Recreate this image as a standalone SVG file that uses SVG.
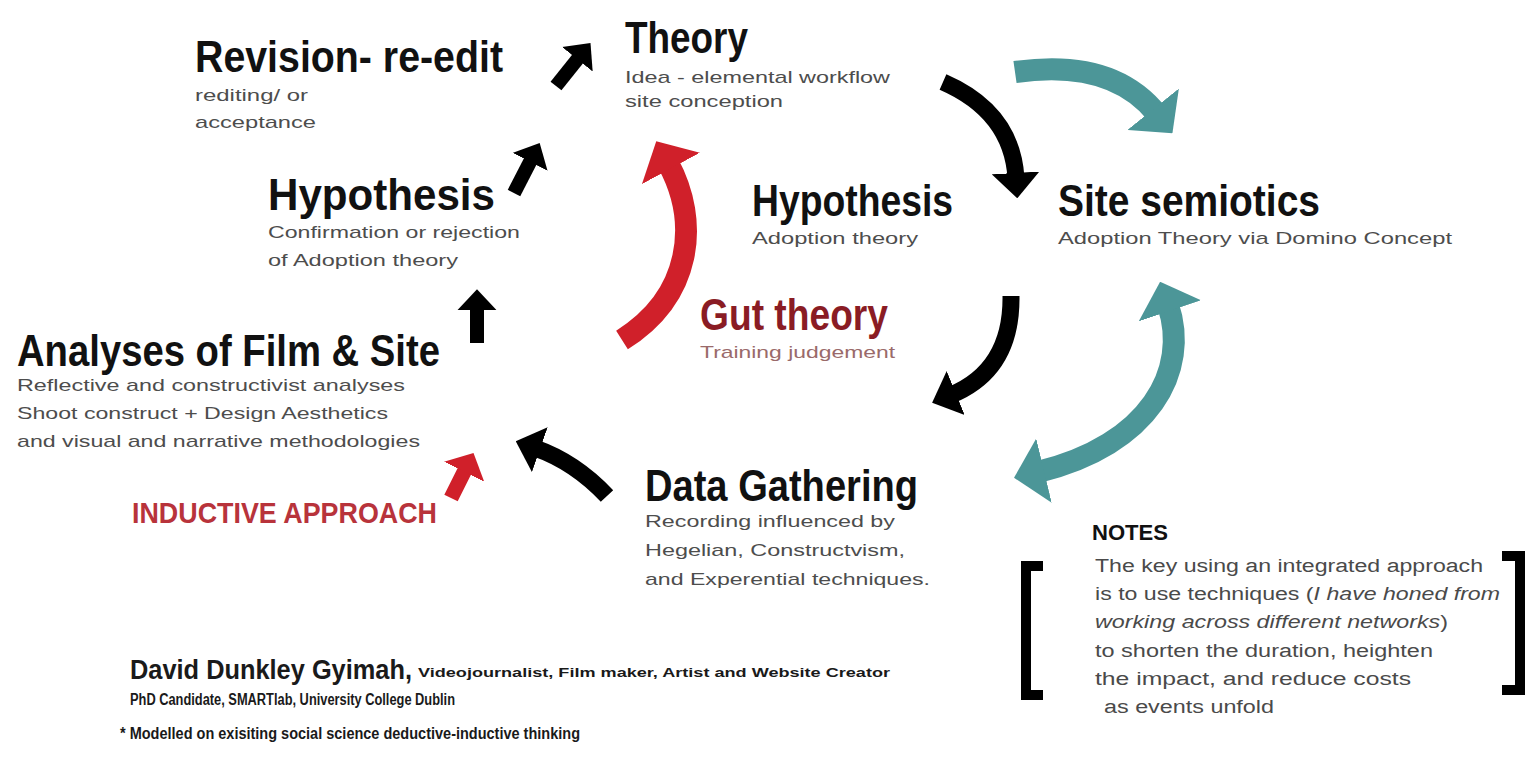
<svg xmlns="http://www.w3.org/2000/svg" width="1529" height="757" viewBox="0 0 1529 757">
  <style>
    .h { font-family: "Liberation Sans", Arial, sans-serif; font-weight: bold; font-size: 44px; fill: #111; }
    .s { font-family: "Liberation Sans", Arial, sans-serif; font-size: 17px; fill: #4d4d4d; }
    .n { font-family: "Liberation Sans", Arial, sans-serif; font-size: 18px; fill: #4a4a4a; }
    .b { font-family: "Liberation Sans", Arial, sans-serif; font-weight: bold; fill: #1a1a1a; }
    .blk { fill: none; stroke: #000; stroke-linecap: butt; }
    .red { fill: none; stroke: #d0202a; stroke-linecap: butt; }
    .teal { fill: none; stroke: #4c9698; stroke-linecap: butt; }
  </style>
  <defs>
    <marker id="mk-black" viewBox="0 0 10 10" refX="2" refY="5" markerWidth="1.5" markerHeight="2.8" markerUnits="strokeWidth" orient="auto-start-reverse" preserveAspectRatio="none">
      <path d="M0,0 L10,5 L0,10 z" fill="#000"/>
    </marker>
    <marker id="mk-red" viewBox="0 0 10 10" refX="2" refY="5" markerWidth="1.4" markerHeight="3" markerUnits="strokeWidth" orient="auto-start-reverse" preserveAspectRatio="none">
      <path d="M0,0 L10,5 L0,10 z" fill="#d0202a"/>
    </marker>
    <marker id="mk-teal" viewBox="0 0 10 10" refX="2" refY="5" markerWidth="1.4" markerHeight="3" markerUnits="strokeWidth" orient="auto-start-reverse" preserveAspectRatio="none">
      <path d="M0,0 L10,5 L0,10 z" fill="#4c9698"/>
    </marker>
  </defs>

  <rect width="1529" height="757" fill="#fff"/>

  <!-- connectors -->
  <g id="connectors">
    <!-- black cycle arrows -->
    <path class="blk" stroke-width="14" d="M556,86 L580,56" marker-end="url(#mk-black)"/>
    <path class="blk" stroke-width="14" d="M514,193 L532,158" marker-end="url(#mk-black)"/>
    <path class="blk" stroke-width="14" d="M477,343 L477,306" marker-end="url(#mk-black)"/>
    <path class="blk" stroke-width="17" d="M607,496 Q575,462 535,448" marker-end="url(#mk-black)"/>
    <path class="blk" stroke-width="17" d="M943,82 Q1012,112 1016,178" marker-end="url(#mk-black)"/>
    <path class="blk" stroke-width="17" d="M1011,296 Q1012,370 951,395" marker-end="url(#mk-black)"/>
    <!-- red arrows -->
    <path class="red" stroke-width="22" d="M622,340 C692,296 700,222 668,163" marker-end="url(#mk-red)"/>
    <path class="red" stroke-width="15" d="M451,498 L466,468" marker-end="url(#mk-red)"/>
    <!-- teal arrows -->
    <path class="teal" stroke-width="22" d="M1015,72 Q1112,58 1157,114" marker-end="url(#mk-teal)"/>
    <path class="teal" stroke-width="22" d="M1168,305 C1190,370 1150,445 1038,472" marker-start="url(#mk-teal)" marker-end="url(#mk-teal)"/>
  </g>

  <g id="revision">
    <text class="h" x="195" y="72" textLength="308" lengthAdjust="spacingAndGlyphs">Revision- re-edit</text>
    <text class="s" x="195" y="101" textLength="113" lengthAdjust="spacingAndGlyphs">rediting/ or</text>
    <text class="s" x="195" y="128" textLength="121" lengthAdjust="spacingAndGlyphs">acceptance</text>
  </g>

  <g id="theory">
    <text class="h" x="625" y="53" textLength="123" lengthAdjust="spacingAndGlyphs">Theory</text>
    <text class="s" x="625" y="83" textLength="265" lengthAdjust="spacingAndGlyphs">Idea - elemental workflow</text>
    <text class="s" x="625" y="107" textLength="158" lengthAdjust="spacingAndGlyphs">site conception</text>
  </g>

  <g id="hypothesis-left">
    <text class="h" x="268" y="210" textLength="227" lengthAdjust="spacingAndGlyphs">Hypothesis</text>
    <text class="s" x="268" y="238" textLength="252" lengthAdjust="spacingAndGlyphs">Confirmation or rejection</text>
    <text class="s" x="268" y="266" textLength="190" lengthAdjust="spacingAndGlyphs">of Adoption theory</text>
  </g>

  <g id="hypothesis-mid">
    <text class="h" x="752" y="216" textLength="201" lengthAdjust="spacingAndGlyphs">Hypothesis</text>
    <text class="s" x="752" y="244" textLength="166" lengthAdjust="spacingAndGlyphs">Adoption theory</text>
  </g>

  <g id="site-semiotics">
    <text class="h" x="1058" y="216" textLength="262" lengthAdjust="spacingAndGlyphs">Site semiotics</text>
    <text class="s" x="1058" y="244" textLength="394" lengthAdjust="spacingAndGlyphs">Adoption Theory via Domino Concept</text>
  </g>

  <g id="analyses">
    <text class="h" x="17" y="366" textLength="423" lengthAdjust="spacingAndGlyphs">Analyses of Film &amp; Site</text>
    <text class="s" x="17" y="391" textLength="388" lengthAdjust="spacingAndGlyphs">Reflective and constructivist analyses</text>
    <text class="s" x="17" y="419" textLength="371" lengthAdjust="spacingAndGlyphs">Shoot construct + Design Aesthetics</text>
    <text class="s" x="17" y="447" textLength="403" lengthAdjust="spacingAndGlyphs">and visual and narrative methodologies</text>
  </g>

  <g id="gut-theory">
    <text class="h" x="700" y="330" textLength="188" lengthAdjust="spacingAndGlyphs" style="fill:#8a1c24">Gut theory</text>
    <text class="s" x="700" y="358" textLength="195" lengthAdjust="spacingAndGlyphs" style="fill:#9a6a6a">Training judgement</text>
  </g>

  <g id="inductive">
    <text class="b" x="132" y="523" font-size="30" textLength="305" lengthAdjust="spacingAndGlyphs" style="fill:#b8333b">INDUCTIVE APPROACH</text>
  </g>

  <g id="data-gathering">
    <text class="h" x="645" y="501" textLength="273" lengthAdjust="spacingAndGlyphs">Data Gathering</text>
    <text class="s" x="645" y="527" textLength="250" lengthAdjust="spacingAndGlyphs">Recording influenced by</text>
    <text class="s" x="645" y="556" textLength="260" lengthAdjust="spacingAndGlyphs">Hegelian, Constructvism,</text>
    <text class="s" x="645" y="585" textLength="285" lengthAdjust="spacingAndGlyphs">and Experential techniques.</text>
  </g>

  <g id="notes">
    <text class="b" x="1092" y="540" font-size="22" textLength="76" lengthAdjust="spacingAndGlyphs" style="fill:#111">NOTES</text>
    <path d="M1043,566 H1026 V695 H1043" fill="none" stroke="#000" stroke-width="10"/>
    <path d="M1502,556 H1520 V690 H1502" fill="none" stroke="#000" stroke-width="10"/>
    <text class="n" x="1095" y="572" textLength="388" lengthAdjust="spacingAndGlyphs">The key using an integrated approach</text>
    <text class="n" x="1095" y="600" textLength="405" lengthAdjust="spacingAndGlyphs">is to use techniques (<tspan font-style="italic">I have honed from</tspan></text>
    <text class="n" x="1095" y="628" textLength="353" lengthAdjust="spacingAndGlyphs"><tspan font-style="italic">working across different networks</tspan>)</text>
    <text class="n" x="1095" y="657" textLength="338" lengthAdjust="spacingAndGlyphs">to shorten the duration, heighten</text>
    <text class="n" x="1095" y="685" textLength="316" lengthAdjust="spacingAndGlyphs">the impact, and reduce costs</text>
    <text class="n" x="1104" y="713" textLength="170" lengthAdjust="spacingAndGlyphs">as events unfold</text>
  </g>

  <g id="credits">
    <text class="b" x="130" y="679" font-size="27" textLength="282" lengthAdjust="spacingAndGlyphs">David Dunkley Gyimah,</text>
    <text class="b" x="418" y="677" font-size="12" textLength="472" lengthAdjust="spacingAndGlyphs">Videojournalist, Film maker, Artist and Website Creator</text>
    <text class="b" x="130" y="705" font-size="16" textLength="325" lengthAdjust="spacingAndGlyphs">PhD Candidate, SMARTlab, University College Dublin</text>
    <text class="b" x="120" y="739" font-size="16" textLength="460" lengthAdjust="spacingAndGlyphs">* Modelled on exisiting social science deductive-inductive thinking</text>
  </g>
</svg>
